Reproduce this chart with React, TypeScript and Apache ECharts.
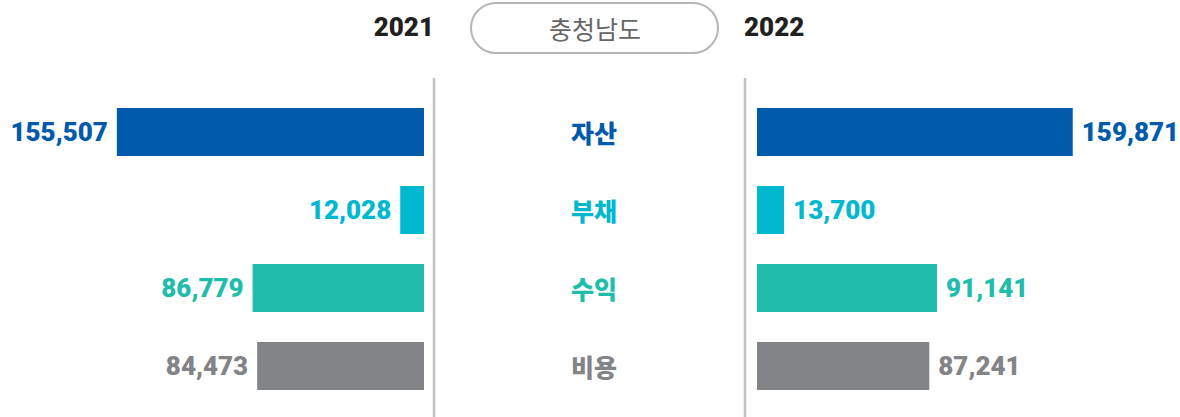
import React, { useEffect, useRef } from "react";
import * as echarts from "echarts";

const categories = ["자산", "부채", "수익", "비용"];
const values2021 = [155507, 12028, 86779, 84473];
const values2022 = [159871, 13700, 91141, 87241];
const colors = ["#015BAA", "#00B8CF", "#21BDAC", "#838488"];
const years = ["2021", "2022"];
const title = "충청남도";

const NUM_FONT = "'Roboto', sans-serif";
const KR_FONT = "'Noto Sans CJK KR', sans-serif";

function fmt(v: number) {
  return v.toLocaleString("en-US");
}

export default function App() {
  const ref = useRef<HTMLDivElement>(null);
  useEffect(() => {
    document.body.style.margin = "0";
    const chart = echarts.init(ref.current!, null, { renderer: "svg" });
    const barData = (vals: number[]) =>
      vals.map((v, i) => ({
        value: v,
        itemStyle: { color: colors[i] },
        label: { color: colors[i] },
      }));
    const valueLabel = (pos: string) => ({
      show: true,
      position: pos,
      distance: 9,
      fontFamily: NUM_FONT,
      fontWeight: 900,
      fontSize: 26,
      formatter: (p: any) => fmt(p.value),
    });
    chart.setOption({
      animation: false,
      grid: [
        { left: 108, width: 316, top: 93, height: 312 },
        { left: 757, width: 316, top: 93, height: 312 },
      ],
      xAxis: [
        { gridIndex: 0, type: "value", min: 0, max: 160000, inverse: true, show: false },
        { gridIndex: 1, type: "value", min: 0, max: 160000, show: false },
      ],
      yAxis: [
        {
          gridIndex: 0,
          type: "category",
          data: categories,
          inverse: true,
          position: "right",
          axisLine: { show: false },
          axisTick: { show: false },
          axisLabel: { show: false },
        },
        {
          gridIndex: 1,
          type: "category",
          data: categories,
          inverse: true,
          axisLine: { show: false },
          axisTick: { show: false },
          axisLabel: {
            show: true,
            margin: 163,
            align: "center",
            fontFamily: KR_FONT,
            fontWeight: 900,
            fontSize: 25,
            color: (_v: any, i: number) => colors[i],
          },
        },
      ],
      series: [
        {
          type: "bar",
          xAxisIndex: 0,
          yAxisIndex: 0,
          barWidth: 48,
          data: barData(values2021),
          label: valueLabel("left"),
        },
        {
          type: "bar",
          xAxisIndex: 1,
          yAxisIndex: 1,
          barWidth: 48,
          data: barData(values2022),
          label: valueLabel("right"),
        },
      ],
      graphic: [
        {
          type: "line",
          shape: { x1: 434, y1: 78, x2: 434, y2: 417 },
          style: { stroke: "#C2C2C4", lineWidth: 2.5 },
        },
        {
          type: "line",
          shape: { x1: 745, y1: 78, x2: 745, y2: 417 },
          style: { stroke: "#C2C2C4", lineWidth: 2.5 },
        },
        {
          type: "rect",
          shape: { x: 471, y: 3, width: 247, height: 50, r: 25 },
          style: { fill: "#fff", stroke: "#B5B6B8", lineWidth: 2 },
        },
        {
          type: "text",
          x: 595,
          y: 28,
          style: {
            text: title,
            fontFamily: KR_FONT,
            fontSize: 25,
            fill: "#666666",
            align: "center",
            verticalAlign: "middle",
          },
        },
        {
          type: "text",
          x: 434,
          y: 27,
          style: {
            text: years[0],
            fontFamily: NUM_FONT,
            fontWeight: 900,
            fontSize: 26,
            fill: "#231F20",
            align: "right",
            verticalAlign: "middle",
          },
        },
        {
          type: "text",
          x: 744,
          y: 27,
          style: {
            text: years[1],
            fontFamily: NUM_FONT,
            fontWeight: 900,
            fontSize: 26,
            fill: "#231F20",
            align: "left",
            verticalAlign: "middle",
          },
        },
      ],
    });
    return () => chart.dispose();
  }, []);
  return (
    <div
      ref={ref}
      style={{ width: 1180, height: 417, position: "absolute", left: 0, top: 0 }}
    />
  );
}
